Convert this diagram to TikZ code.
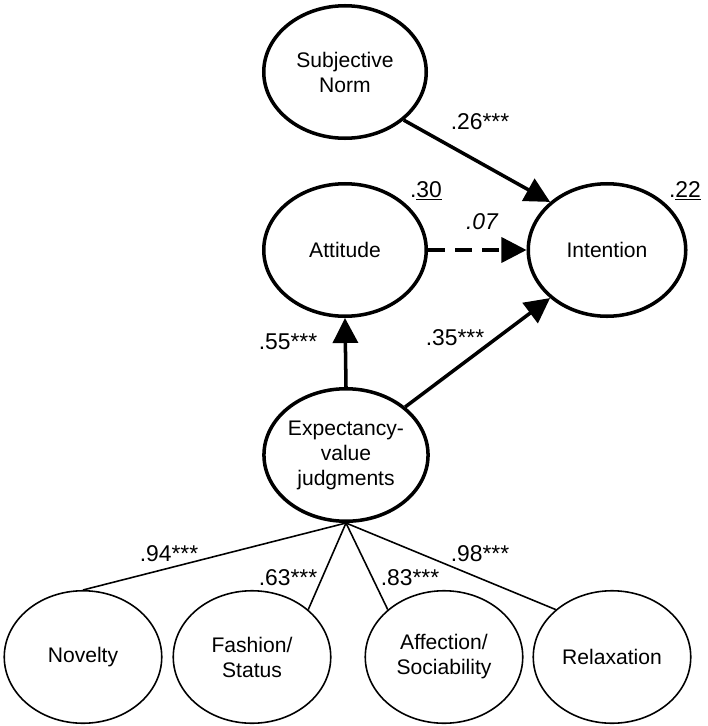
\documentclass[tikz,border=0pt]{standalone}
\usepackage{fontspec}
\setmainfont{Liberation Sans}
\usetikzlibrary{arrows.meta, calc, shapes.geometric}

\begin{document}
\begin{tikzpicture}[>={Triangle[length=5mm, width=5mm]}, every node/.style={font=\fontsize{13}{15}\selectfont},
  latent/.style={draw, ellipse, line width=2pt, minimum width=3.25cm, minimum height=2.65cm, inner sep=0pt, align=center, font=\fontsize{12}{14.2}\selectfont},
  factor/.style={latent, line width=0.9pt, minimum width=3.15cm},
  effect/.style={->, line width=2pt}]
  \useasboundingbox (0,0) rectangle (14.14,-14.52);
  % structural part
  \node[latent] (subjNorm) at (6.9,-1.44) {Subjective\\Norm};
  \node[latent] (attitude) at (6.9,-5.0) {Attitude};
  \node[latent, minimum width=3.15cm] (intention) at (12.14,-5.0) {Intention};
  \node[latent] (expValue) at (6.92,-9.1) {Expectancy-\\value\\judgments};
  \draw[effect] (subjNorm.south east) -- (intention.north west);
  \draw[effect, dash pattern=on 0.34cm off 0.2cm] (attitude.east) -- (intention.west);
  \draw[effect] (expValue.north) -- (attitude.south);
  \draw[effect] (expValue.north east) -- (intention.south west);
  \node at (9.6,-2.44) {.26***};
  \node at (9.64,-4.44) {\itshape .07};
  \node at (8.52,-3.82) {.\underline{30}};
  \node at (13.7,-3.82) {.\underline{22}};
  \node at (5.76,-6.84) {.55***};
  \node at (9.1,-6.76) {.35***};
  % measurement part
  \node[factor] (novelty) at (1.66,-13.14) {Novelty};
  \node[factor] (fashion) at (5.04,-13.14) {Fashion/\\Status};
  \node[factor] (affection) at (8.88,-13.14) {Affection/\\Sociability};
  \node[factor] (relaxation) at (12.24,-13.14) {Relaxation};
  \draw[line width=0.9pt] (expValue.south) -- (novelty.north);
  \draw[line width=0.9pt] (expValue.south) -- (fashion.north east);
  \draw[line width=0.9pt] (expValue.south) -- (affection.north west);
  \draw[line width=0.9pt] (expValue.south) -- (relaxation.north west);
  \node at (3.38,-11.08) {.94***};
  \node at (5.76,-11.56) {.63***};
  \node at (8.2,-11.56) {.83***};
  \node at (9.6,-11.08) {.98***};
\end{tikzpicture}
\end{document}
